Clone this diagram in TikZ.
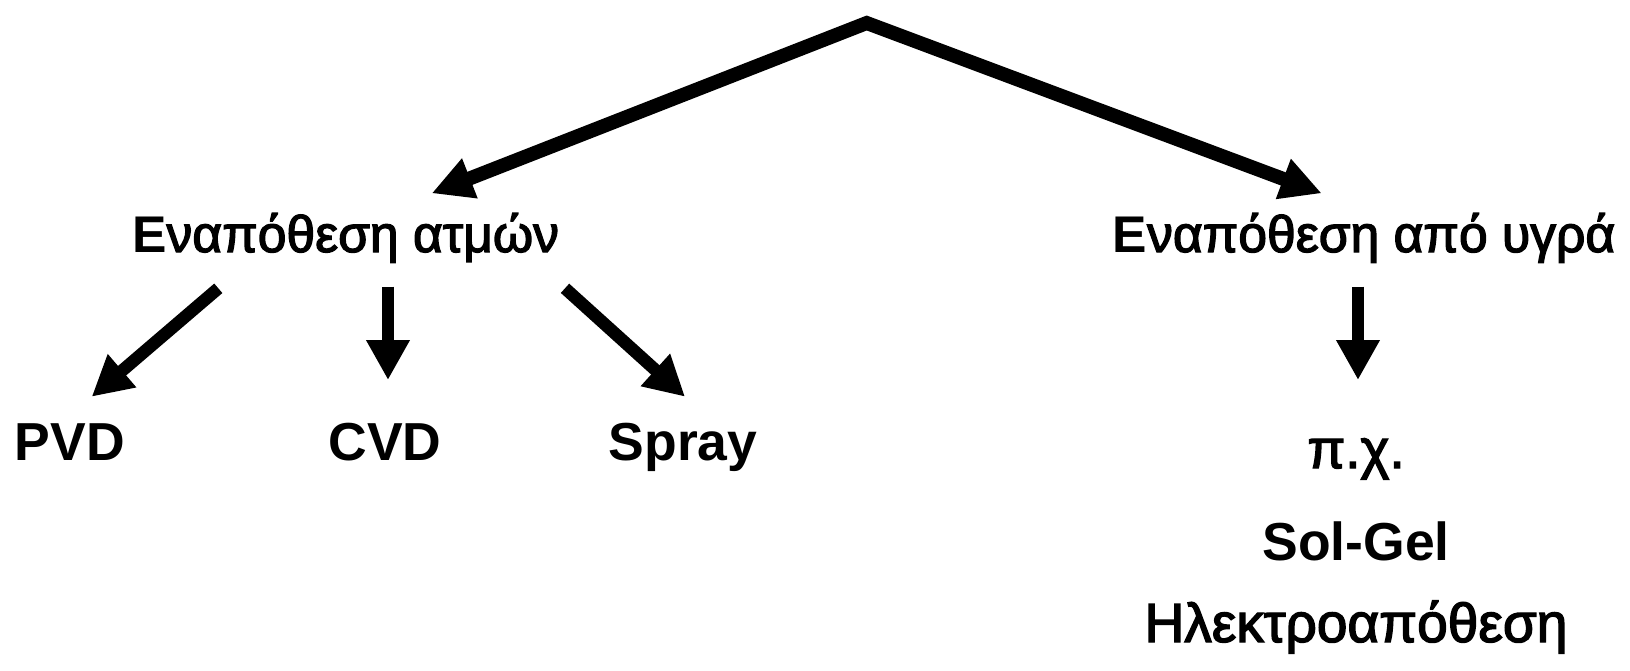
\documentclass[tikz,border=0pt]{standalone}
\usepackage{fontspec}
\setmainfont{Liberation Sans}
\newfontfamily\grkmed[FakeBold=2.5]{Liberation Sans}
\usetikzlibrary{arrows.meta}
\begin{document}
\begin{tikzpicture}[x=1pt,y=-1pt,
  lbl/.style={inner sep=0pt, anchor=base, font=\grkmed\fontsize{51.6}{56}\selectfont},
  big/.style={inner sep=0pt, anchor=base, font=\bfseries\fontsize{53.5}{60}\selectfont},
  grk/.style={inner sep=0pt, anchor=base, font=\grkmed\fontsize{55}{60}\selectfont},
  arr/.style={line width=12.5pt, -{Triangle[length=40pt,width=41pt]}},
  toparr/.style={line width=14pt, line join=miter, {Triangle[length=41pt,width=40pt]}-{Triangle[length=41pt,width=40pt]}},
]
\useasboundingbox (0,0) rectangle (1630,670);
% labels
\node[lbl] (atm) at (345.6,252) {{\normalfont\bfseries\fontsize{51.6}{56}\selectfont E}ναπόθεση ατμών};
\node[lbl] (liq) at (1364,252) {{\normalfont\bfseries\fontsize{51.6}{56}\selectfont E}ναπόθεση από υγρά};
\node[big] (pvd) at (70,460) {PVD};
\node[big] (cvd) at (385,460) {CVD};
\node[big] (spray) at (683,460) {Spray};
\node[grk] (px) at (1356,468) {π.χ.};
\node[big] (sol) at (1356,560) {Sol-Gel};
\node[grk] (elec) at (1356,642) {Ηλεκτροαπόθεση};
% connector points
\coordinate (apex) at (866.7,23);
\coordinate (tipL) at (431.7,193.3);
\coordinate (tipR) at (1321.7,193.3);
\coordinate (pvdS) at (218.3,288.3);
\coordinate (pvdE) at (91.7,396.7);
\coordinate (cvdS) at (388,286.7);
\coordinate (cvdE) at (388,380);
\coordinate (sprS) at (565,288.3);
\coordinate (sprE) at (685,396.7);
\coordinate (liqS) at (1358,286.7);
\coordinate (liqE) at (1358,380);
% connectors
\draw[toparr] (tipL) -- (apex) -- (tipR);
\draw[arr] (pvdS) -- (pvdE);
\draw[arr] (cvdS) -- (cvdE);
\draw[arr] (sprS) -- (sprE);
\draw[arr] (liqS) -- (liqE);
\end{tikzpicture}
\end{document}
